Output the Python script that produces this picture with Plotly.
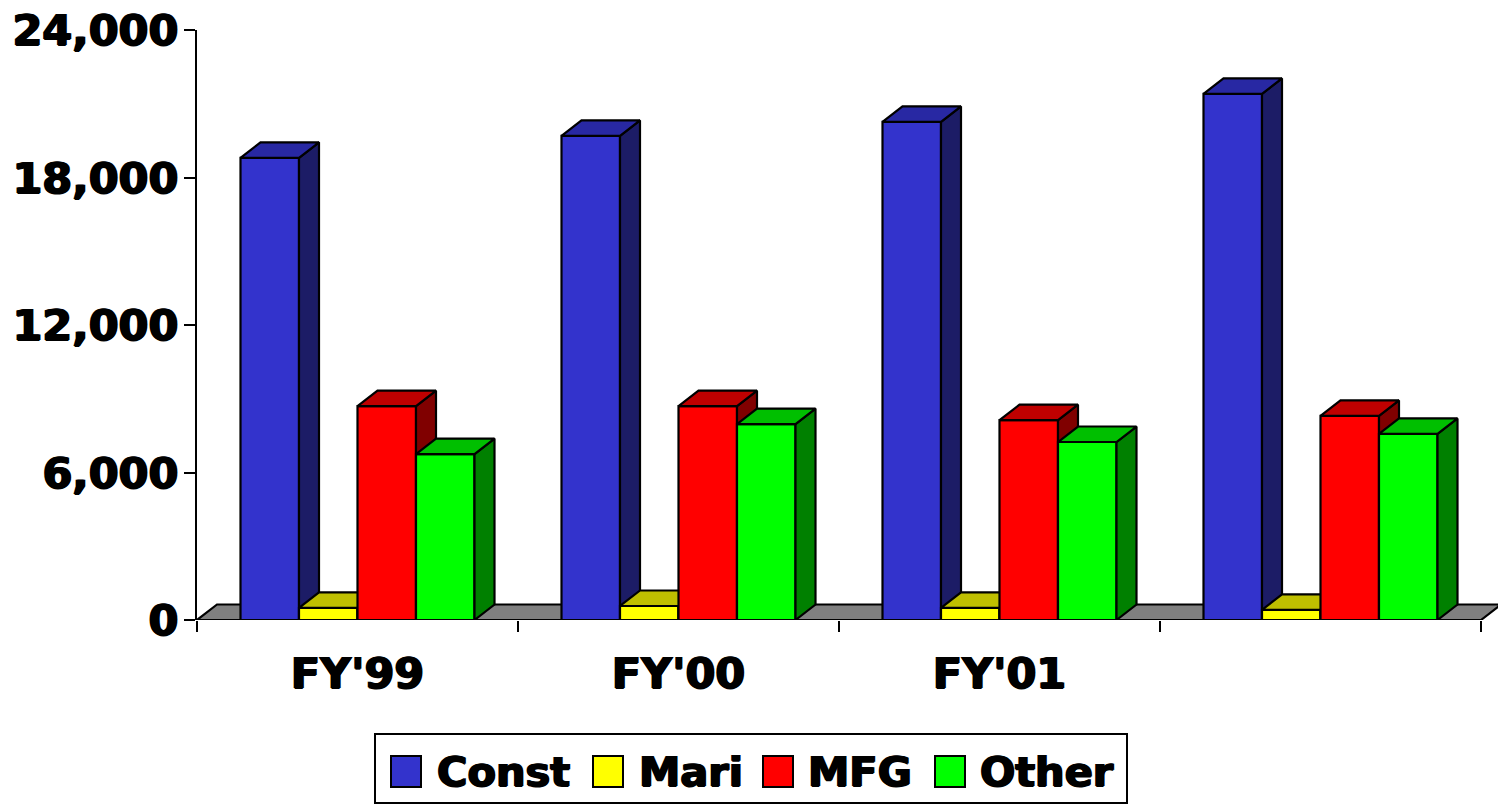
import plotly.graph_objects as go

# ---- data ----
categories = [0, 1, 2, 3]
category_labels = ["FY'99", "FY'00", "FY'01"]
const_values = [18800, 19690, 20260, 21400]
mari_values = [490, 570, 490, 410]
mfg_values = [8700, 8700, 8130, 8300]
other_values = [6750, 7970, 7240, 7570]
series_names = ["Const", "Mari", "MFG", "Other"]
y_ticks = [0, 6000, 12000, 18000, 24000]
x_boundaries = [-0.5, 0.5, 1.5, 2.5, 3.5]

# ---- style ----
W, H = 1498, 804
PLOT_L, PLOT_T, PLOT_BOTTOM = 197, 30, 620
PW = W - PLOT_L
PH = PLOT_BOTTOM - PLOT_T
CAT_PX = 321.0
UNIT_PX = PH / 24000.0
DX = 20 / CAT_PX
DY = 15.5 / UNIT_PX
BAR_W = 58.5 / CAT_PX
X_MAX = -0.5 + PW / CAT_PX
SHADOW = "1px 0 0 #000, -1px 0 0 #000, 0 1px 0 #000"
TICK_FONT = dict(family="DejaVu Sans", size=43, color="black", weight="bold", shadow=SHADOW)
LEGEND_FONT = dict(family="DejaVu Sans", size=41.5, color="black", weight="bold", shadow=SHADOW)

styles = [
    dict(front="#3333CC", top="#2828A3", side="#1C1C66"),
    dict(front="#FFFF00", top="#BFBF00", side="#808000"),
    dict(front="#FF0000", top="#BF0000", side="#800000"),
    dict(front="#00FF00", top="#00BF00", side="#008000"),
]
all_values = [const_values, mari_values, mfg_values, other_values]
EDGE = dict(color="black", width=2.2)


def face_trace(xs, ys, color, xa, ya):
    return go.Scatter(x=xs, y=ys, mode="lines", fill="toself", fillcolor=color,
                      line=EDGE, hoverinfo="skip", showlegend=False,
                      xaxis=xa, yaxis=ya)


fig = go.Figure()

# floor, on the base axes so that every bar is drawn above it
fig.add_trace(face_trace(
    [x_boundaries[0], x_boundaries[0] + DX, x_boundaries[-1] + DX, x_boundaries[-1], x_boundaries[0]],
    [0, DY, DY, 0, 0], "#808080", "x", "y"))

# each series has its own overlaid axes, so the layers stack from left to right
for k, (name, values, st) in enumerate(zip(series_names, all_values, styles)):
    xa, ya = f"x{k + 2}", f"y{k + 2}"
    offset = (k - 2) * BAR_W
    fig.add_trace(go.Bar(x=categories, y=values, name=name, width=BAR_W, offset=offset,
                         marker=dict(color=st["front"], line=EDGE),
                         showlegend=False, xaxis=xa, yaxis=ya))
    side_x, side_y, top_x, top_y = [], [], [], []
    for c, v in zip(categories, values):
        x0 = c + offset
        x1 = x0 + BAR_W
        side_x += [x1, x1 + DX, x1 + DX, x1, x1, None]
        side_y += [0, DY, v + DY, v, 0, None]
        top_x += [x0, x0 + DX, x1 + DX, x1, x0, None]
        top_y += [v, v + DY, v + DY, v, v, None]
    fig.add_trace(face_trace(side_x, side_y, st["side"], xa, ya))
    fig.add_trace(face_trace(top_x, top_y, st["top"], xa, ya))

layout = dict(
    width=W, height=H,
    margin=dict(l=PLOT_L, r=0, t=PLOT_T, b=H - PLOT_BOTTOM, pad=0),
    paper_bgcolor="white", plot_bgcolor="white",
    showlegend=False, barmode="overlay",
    xaxis=dict(range=[-0.5, X_MAX], tickmode="array", tickvals=categories[:3],
               ticktext=category_labels, ticks="", showgrid=False, zeroline=False,
               showline=False, tickfont=TICK_FONT, ticklabelstandoff=24,
               minor=dict(tickmode="array", tickvals=x_boundaries, ticks="outside",
                          ticklen=11, tickwidth=2, tickcolor="black", showgrid=False)),
    yaxis=dict(range=[0, 24000], tickmode="array", tickvals=y_ticks, tickformat=",",
               ticks="outside", ticklen=11, tickwidth=2, tickcolor="black",
               showline=True, linewidth=2, linecolor="black", showgrid=False,
               zeroline=False, tickfont=TICK_FONT, ticklabelstandoff=-3,
               ticklabeloverflow="allow"),
)
for n in (2, 3, 4, 5):
    layout[f"xaxis{n}"] = dict(range=[-0.5, X_MAX], overlaying="x", visible=False)
    layout[f"yaxis{n}"] = dict(range=[0, 24000], overlaying="y", visible=False)


def px(x):
    return (x - PLOT_L) / PW


def py(y):
    return (PLOT_BOTTOM - y) / PH


shapes = [
    dict(type="line", xref="x", yref="y", x0=x_boundaries[0], x1=x_boundaries[-1], y0=0, y1=0,
         line=dict(color="black", width=2)),
    dict(type="rect", xref="paper", yref="paper", x0=px(375), x1=px(1127), y0=py(803), y1=py(734),
         fillcolor="white", line=dict(color="black", width=2)),
]
annotations = []
swatch_left = [391, 593, 763, 935]
text_left = [436, 638, 807, 979]
for name, st, sx, tx in zip(series_names, styles, swatch_left, text_left):
    shapes.append(dict(type="rect", xref="paper", yref="paper", x0=px(sx), x1=px(sx + 30),
                       y0=py(787), y1=py(756), fillcolor=st["front"],
                       line=dict(color="black", width=2)))
    annotations.append(dict(text=name, xref="paper", yref="paper", x=px(tx), y=py(771),
                            xanchor="left", yanchor="middle", showarrow=False, font=LEGEND_FONT,
                            borderpad=0))

fig.update_layout(**layout, shapes=shapes, annotations=annotations)
fig.write_html("out.html", post_script="document.body.style.margin = '0';",
               config=dict(displayModeBar=False))
